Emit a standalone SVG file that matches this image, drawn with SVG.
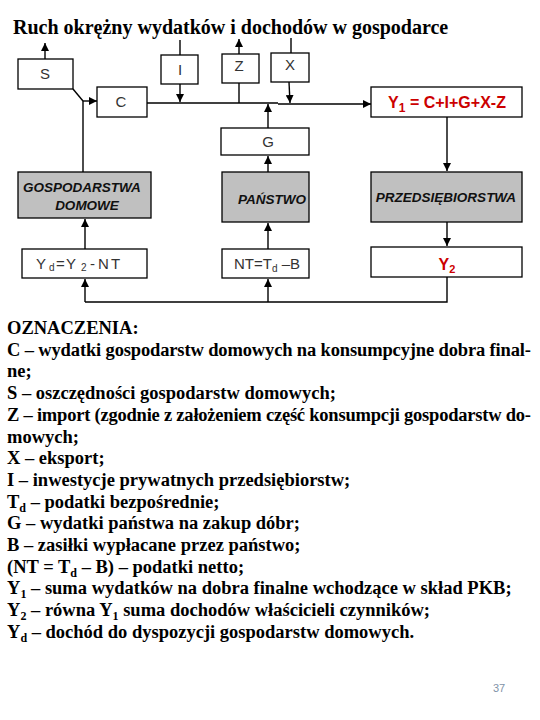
<svg xmlns="http://www.w3.org/2000/svg" width="540" height="720" viewBox="0 0 540 720">
<style>
.title{font-family:"Liberation Serif","Times New Roman",serif;font-weight:bold;font-size:20px;fill:#000}
.leg{font-family:"Liberation Serif","Times New Roman",serif;font-weight:bold;font-size:18.5px;fill:#000}
.sub{font-size:12px}
.box{fill:#fff;stroke:#000;stroke-width:1.3}
.gbox{fill:#c0c0c0;stroke:#000;stroke-width:1.3}
.lbl{font-family:"Liberation Sans",Arial,sans-serif;font-size:15px;fill:#333;text-anchor:middle}
.glbl{font-family:"Liberation Sans",Arial,sans-serif;font-size:13.5px;font-weight:bold;font-style:italic;fill:#111;text-anchor:middle}
.red{font-family:"Liberation Sans",Arial,sans-serif;font-size:16px;font-weight:bold;fill:#cc0000;text-anchor:middle}
.ln{stroke:#000;stroke-width:1.4;fill:none}
.arr{stroke:#000;stroke-width:1.4;fill:none;marker-end:url(#ah)}
.pg{font-family:"Liberation Sans",Arial,sans-serif;font-size:11px;fill:#7f93a8}
</style>
<defs>
<marker id="ah" viewBox="0 0 8 8" refX="8" refY="4" markerWidth="8" markerHeight="8" markerUnits="userSpaceOnUse" orient="auto">
<path d="M0,0 L8,4 L0,8 z" fill="#000"/>
</marker>
</defs>
<text class="title" x="13" y="34">Ruch okrężny wydatków i dochodów w gospodarce</text>
<g id="connectors">
<line class="arr" x1="45" y1="59" x2="45" y2="43"/>
<line class="ln" x1="73" y1="89" x2="83" y2="101"/>
<line class="arr" x1="83" y1="101" x2="97" y2="101"/>
<line class="ln" x1="83" y1="101" x2="83" y2="172"/>
<line class="ln" x1="180" y1="40" x2="180" y2="55"/>
<line class="arr" x1="180" y1="84" x2="180" y2="102"/>
<line class="arr" x1="239" y1="54" x2="239" y2="39"/>
<line class="ln" x1="239" y1="83" x2="239" y2="103"/>
<line class="ln" x1="291" y1="38" x2="291" y2="53"/>
<line class="arr" x1="289" y1="82" x2="290" y2="103"/>
<line class="ln" x1="147" y1="103" x2="278" y2="103"/>
<line class="arr" x1="278" y1="104" x2="371" y2="104"/>
<line class="arr" x1="268" y1="128" x2="268" y2="104"/>
<line class="arr" x1="268" y1="172" x2="268" y2="156"/>
<line class="arr" x1="268" y1="249" x2="268" y2="223"/>
<line class="arr" x1="268" y1="302" x2="268" y2="279"/>
<line class="arr" x1="85" y1="302" x2="85" y2="279"/>
<line class="arr" x1="85" y1="249" x2="85" y2="219"/>
<line class="arr" x1="447" y1="117" x2="447" y2="171"/>
<line class="arr" x1="447" y1="222" x2="447" y2="246"/>
<polyline class="ln" points="447,277 447,302 85,302"/>
</g>
<g id="S"><rect class="box" x="18" y="59" width="55" height="30"/><text class="lbl" x="45" y="79">S</text></g>
<g id="C"><rect class="box" x="97" y="87" width="50" height="30"/><text class="lbl" x="121" y="107">C</text></g>
<g id="I"><rect class="box" x="161" y="55" width="37" height="29"/><text class="lbl" x="180" y="75">I</text></g>
<g id="Z"><rect class="box" x="222" y="54" width="37" height="29"/><text class="lbl" x="239" y="71">Z</text></g>
<g id="X"><rect class="box" x="271" y="53" width="38" height="29"/><text class="lbl" x="290" y="70">X</text></g>
<g id="Y1"><rect class="box" x="371" y="87" width="151" height="30"/><text class="red" x="447" y="108">Y<tspan class="sub" dy="4">1</tspan><tspan dy="-4"> = C+I+G+X-Z</tspan></text></g>
<g id="G"><rect class="box" x="221" y="128" width="88" height="27"/><text class="lbl" x="268" y="147">G</text></g>
<g id="GD"><rect class="gbox" x="18" y="172" width="133" height="46"/><text class="glbl" x="82" y="192">GOSPODARSTWA</text><text class="glbl" x="87" y="210">DOMOWE</text></g>
<g id="P"><rect class="gbox" x="222" y="172" width="87" height="50"/><text class="glbl" x="272" y="204">PAŃSTWO</text></g>
<g id="PRZ"><rect class="gbox" x="371" y="172" width="151" height="50"/><text class="glbl" x="446" y="202">PRZEDSIĘBIORSTWA</text></g>
<g id="Yd"><rect class="box" x="22" y="249" width="125" height="29"/><text class="lbl" x="36" y="269" style="text-anchor:start">Y<tspan x="49" font-size="10" dy="2">d</tspan><tspan x="56" dy="-2">=</tspan><tspan x="66">Y</tspan><tspan x="81" font-size="10" dy="2">2</tspan><tspan x="90" dy="-2">-</tspan><tspan x="98 111">NT</tspan></text></g>
<g id="NT"><rect class="box" x="222" y="249" width="87" height="29"/><text class="lbl" x="267" y="269">NT=T<tspan font-size="10" dy="3">d</tspan><tspan dy="-3"> –B</tspan></text></g>
<g id="Y2"><rect class="box" x="371" y="247" width="151" height="30"/><text class="red" x="447" y="270" font-weight="normal" font-size="17">Y<tspan font-size="11" dy="3">2</tspan></text></g>
<g id="legend">
<text class="leg" x="7" y="334">OZNACZENIA:</text>
<text class="leg" x="7" y="355.7" textLength="524" lengthAdjust="spacing">C – wydatki gospodarstw domowych na konsumpcyjne dobra final-</text>
<text class="leg" x="7" y="377.4">ne;</text>
<text class="leg" x="7" y="399.1">S – oszczędności gospodarstw domowych;</text>
<text class="leg" x="7" y="420.8" textLength="524" lengthAdjust="spacing">Z – import (zgodnie z założeniem część konsumpcji gospodarstw do-</text>
<text class="leg" x="7" y="442.5">mowych;</text>
<text class="leg" x="7" y="464.2">X – eksport;</text>
<text class="leg" x="7" y="485.9">I – inwestycje prywatnych przedsiębiorstw;</text>
<text class="leg" x="7" y="507.6">T<tspan class="sub" dy="4">d</tspan><tspan dy="-4"> – podatki bezpośrednie;</tspan></text>
<text class="leg" x="7" y="529.3">G – wydatki państwa na zakup dóbr;</text>
<text class="leg" x="7" y="551">B – zasiłki wypłacane przez państwo;</text>
<text class="leg" x="7" y="572.7">(NT = T<tspan class="sub" dy="4">d</tspan><tspan dy="-4"> – B) – podatki netto;</tspan></text>
<text class="leg" x="7" y="594.4">Y<tspan class="sub" dy="4">1</tspan><tspan dy="-4"> – suma wydatków na dobra finalne wchodzące w skład PKB;</tspan></text>
<text class="leg" x="7" y="616.1">Y<tspan class="sub" dy="4">2</tspan><tspan dy="-4"> – równa Y</tspan><tspan class="sub" dy="4">1</tspan><tspan dy="-4"> suma dochodów właścicieli czynników;</tspan></text>
<text class="leg" x="7" y="637.8">Y<tspan class="sub" dy="4">d</tspan><tspan dy="-4"> – dochód do dyspozycji gospodarstw domowych.</tspan></text>
</g>
<text class="pg" x="493" y="692">37</text>
</svg>
